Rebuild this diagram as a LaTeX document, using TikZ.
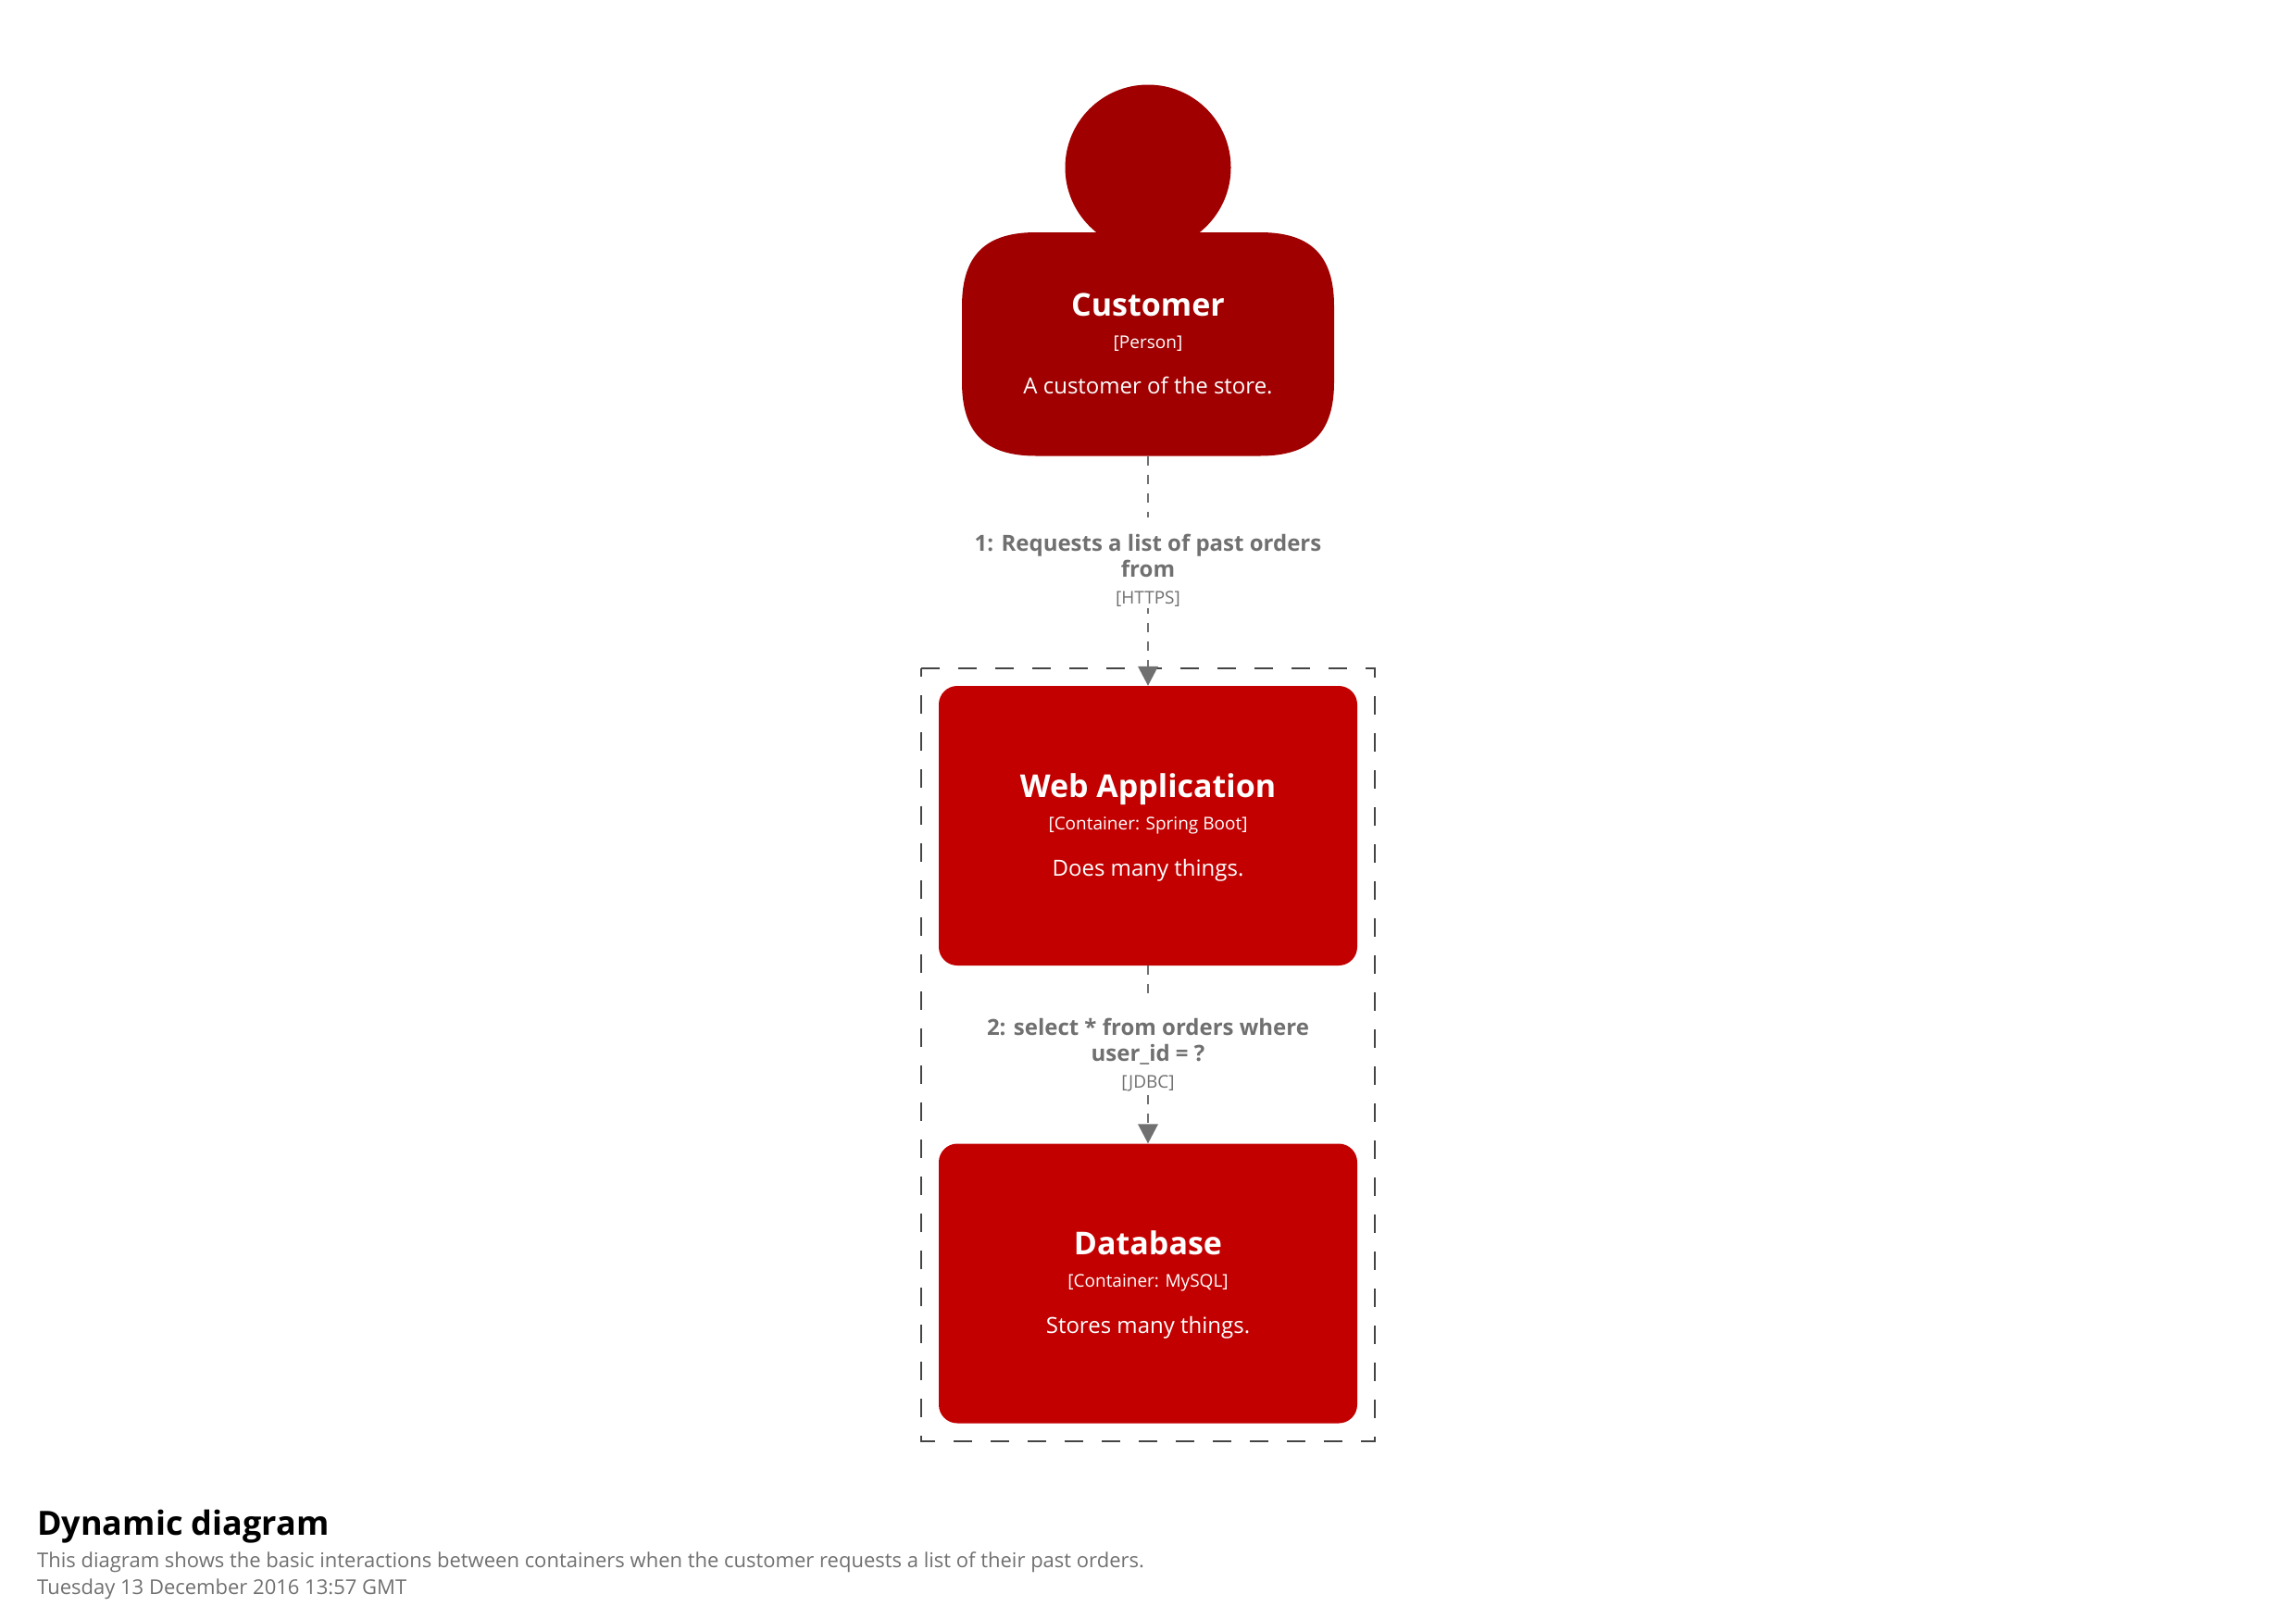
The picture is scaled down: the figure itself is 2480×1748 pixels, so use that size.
\documentclass[tikz,border=0pt]{standalone}
\usepackage{fontspec}
\setmainfont{Open Sans}
\usetikzlibrary{arrows.meta}
\definecolor{personred}{HTML}{A00000}
\definecolor{boxred}{HTML}{C20000}
\definecolor{edgegray}{HTML}{707070}
\definecolor{groupgray}{HTML}{444444}
\tikzset{
  person/.style={minimum width=402pt, minimum height=241.5pt, inner sep=0pt},
  head/.style={circle, fill=personred, minimum size=179pt, inner sep=0pt},
  container/.style={fill=boxred, minimum width=452pt, minimum height=302pt, rounded corners=20pt, inner sep=0pt},
  boxtitle/.style={anchor=base, white, font=\fontsize{34}{40}\selectfont\bfseries, inner sep=0pt},
  boxmeta/.style={anchor=base, white, font=\fontsize{19}{24}\selectfont, inner sep=0pt},
  boxtext/.style={anchor=base, white, font=\fontsize{24}{28}\selectfont, inner sep=0pt},
  edgeline/.style={edgegray, line width=2pt, dash pattern=on 10pt off 10pt, -{Triangle[length=21pt,width=21.5pt]}},
  edgelabel/.style={fill=white, align=center, text=edgegray, font=\fontsize{24}{28}\selectfont\bfseries, minimum height=98pt, inner sep=0pt},
  groupline/.style={groupgray, line width=2pt, dash pattern=on 20pt off 20pt},
}
\newcommand{\labelstrut}{\rule{0pt}{35pt}}
\begin{document}
\begin{tikzpicture}[x=1pt,y=-1pt]
\useasboundingbox (0,0) rectangle (2480,1748);
% boundary
\draw [groupline] (995,722) -- (1485,722) -- (1485,1556.5) -- (995,1556.5) -- cycle;
% elements
\fill [personred] (1039,331) .. controls (1039,276) and (1064,251) .. (1119,251) -- (1361,251)
  .. controls (1416,251) and (1441,276) .. (1441,331) -- (1441,412.5)
  .. controls (1441,467.5) and (1416,492.5) .. (1361,492.5) -- (1119,492.5)
  .. controls (1064,492.5) and (1039,467.5) .. (1039,412.5) -- cycle;
\node [person] (customer) at (1240,371.75) {};
\node [head] (customerhead) at (1240,181) {};
\node [container] (webapp) at (1240,892) {};
\node [container] (database) at (1240,1386.5) {};
\node [boxtitle] (customertitle) at (1240,341) {Customer};
\node [boxmeta] (customermeta) at (1240,376) {[Person]};
\node [boxtext] (customertext) at (1240,425) {A customer of the store.};
\node [boxtitle] (webapptitle) at (1240,861) {Web Application};
\node [boxmeta] (webappmeta) at (1240,896) {[Container: Spring Boot]};
\node [boxtext] (webapptext) at (1240,946) {Does many things.};
\node [boxtitle] (databasetitle) at (1240,1355) {Database};
\node [boxmeta] (databasemeta) at (1240,1390) {[Container: MySQL]};
\node [boxtext] (databasetext) at (1240,1440) {Stores many things.};
% relationships
\draw [edgeline] (customer) -- (webapp);
\draw [edgeline] (webapp) -- (database);
\node [edgelabel] (requestlabel) at (1240,608) {\labelstrut 1: Requests a list of past orders\\from\\[1pt]{\fontsize{19}{24}\selectfont\mdseries [HTTPS]}};
\node [edgelabel] (selectlabel) at (1240,1131) {\labelstrut 2: select * from orders where\\user\_id = ?\\[1pt]{\fontsize{19}{24}\selectfont\mdseries [JDBC]}};
% key
\node [anchor=base west, inner sep=0pt, font=\fontsize{36}{40}\selectfont\bfseries] (diagramtitle) at (40,1658) {Dynamic diagram};
\node [anchor=base west, inner sep=0pt, text=edgegray, font=\fontsize{22}{28}\selectfont] (diagramtext) at (40,1693) {This diagram shows the basic interactions between containers when the customer requests a list of their past orders.};
\node [anchor=base west, inner sep=0pt, text=edgegray, font=\fontsize{22}{28}\selectfont] (diagramdate) at (40,1722) {Tuesday 13 December 2016 13:57 GMT};
\end{tikzpicture}
\end{document}
